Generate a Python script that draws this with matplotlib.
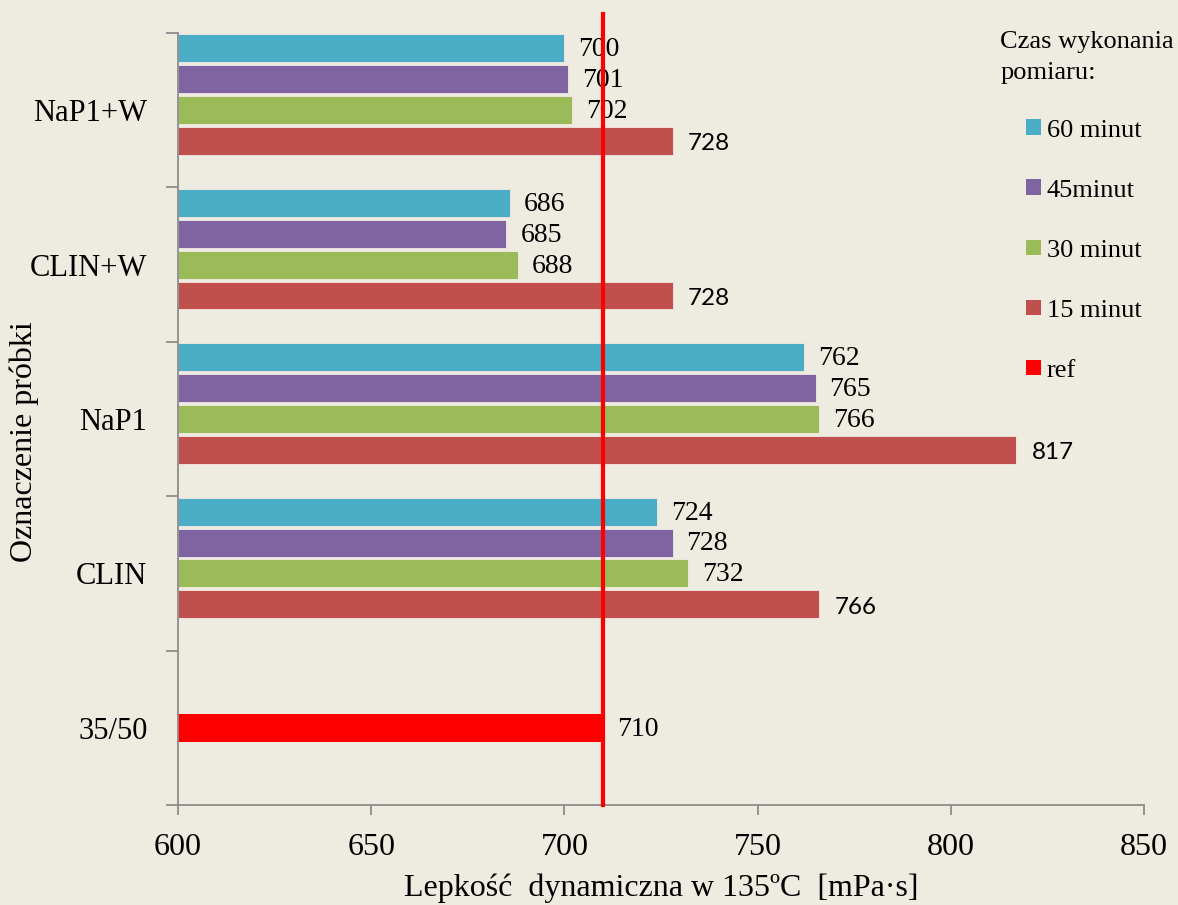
import matplotlib.pyplot as plt
from matplotlib.patches import Patch

# viscosity at 135 C for each sample, by measurement time
samples = ["35/50", "CLIN", "NaP1", "CLIN+W", "NaP1+W"]
series_names = ["60 minut", "45minut", "30 minut", "15 minut"]
v60 = [None, 724, 762, 686, 700]
v45 = [None, 728, 765, 685, 701]
v30 = [None, 732, 766, 688, 702]
v15 = [None, 766, 817, 728, 728]
ref_value = 710

colors = ["#4BACC6", "#8064A2", "#9BBB59", "#C0504D"]
ref_color = "#FF0000"
bg = "#EEEBE1"
axis_gray = "#8C8C8C"

serif = ["Liberation Serif", "DejaVu Serif"]
sans = ["Lato", "Liberation Sans", "DejaVu Sans"]

fig = plt.figure(figsize=(11.78, 9.05), dpi=100, facecolor=bg)
ax = fig.add_axes([0.1511, 0.1105, 0.8200, 0.8530], facecolor=bg)

bar_h = 0.181
offsets = [0.4, 0.2, 0.0, -0.2]

for k, vals in enumerate([v60, v45, v30, v15]):
    ys = [i + offsets[k] for i, v in enumerate(vals) if v is not None]
    xs = [v for v in vals if v is not None]
    ax.barh(ys, [x - 600 for x in xs], left=600, height=bar_h,
            color=colors[k], edgecolor="#F4E9E6", linewidth=0.6, zorder=2)
    for y, x in zip(ys, xs):
        if k == 3:
            ax.annotate(f"{x}", (x, y), xytext=(11, -2), textcoords="offset points",
                        ha="left", va="center", fontsize=17.5, family=sans, zorder=3)
        else:
            ax.annotate(f"{x}", (x, y), xytext=(10, -1), textcoords="offset points",
                        ha="left", va="center", fontsize=20, family=serif, zorder=3)

# reference bitumen
ax.barh([0], [ref_value - 600], left=600, height=bar_h, color=ref_color, zorder=2)
ax.annotate(f"{ref_value}", (ref_value, 0), xytext=(10, -1), textcoords="offset points",
            ha="left", va="center", fontsize=20, family=serif, zorder=3)

# reference level line
ax.plot([ref_value, ref_value], [0, 1.025], transform=ax.get_xaxis_transform(),
        color=ref_color, lw=3, clip_on=False, zorder=5)

ax.set_xlim(600, 850)
ax.set_ylim(-0.5, 4.5)
ax.set_xticks([600, 650, 700, 750, 800, 850])
ax.set_yticks([i - 0.5 for i in range(6)])
ax.set_yticklabels([])
ax.set_yticks(range(5), minor=True)
ax.set_yticklabels(samples, minor=True, fontsize=22, family=serif)
ax.tick_params(axis="y", which="major", direction="out", length=9, color=axis_gray, width=1.3)
ax.tick_params(axis="y", which="minor", length=0, pad=22)
ax.tick_params(axis="x", direction="out", length=7, color=axis_gray, width=1.3, pad=13,
               labelsize=23)
for lab in ax.get_xticklabels():
    lab.set_family(serif)

for side in ["top", "right"]:
    ax.spines[side].set_visible(False)
for side in ["left", "bottom"]:
    ax.spines[side].set_color(axis_gray)
    ax.spines[side].set_linewidth(1.3)

ax.set_xlabel("Lepkość  dynamiczna w 135ºC  [mPa·s]", fontsize=23, family=serif)
ax.xaxis.set_label_coords(0.5, -0.089)
ax.set_ylabel("Oznaczenie próbki", fontsize=23, family=serif)
ax.yaxis.set_label_coords(-0.144, 0.471)

fig.text(0.849, 0.966, "Czas wykonania\npomiaru:", fontsize=19, family=serif,
         ha="left", va="top", linespacing=1.55)

handles = [Patch(facecolor=c, label=n) for c, n in zip(colors, series_names)]
handles.append(Patch(facecolor=ref_color, label="ref"))
leg = fig.legend(handles=handles, loc="upper left", bbox_to_anchor=(0.8713, 0.868),
                 frameon=False, prop={"family": serif, "size": 19},
                 handlelength=0.55, handleheight=0.55, handletextpad=0.22,
                 labelspacing=1.43, borderpad=0, borderaxespad=0)

fig.savefig("out.png", dpi=100, facecolor=bg)
